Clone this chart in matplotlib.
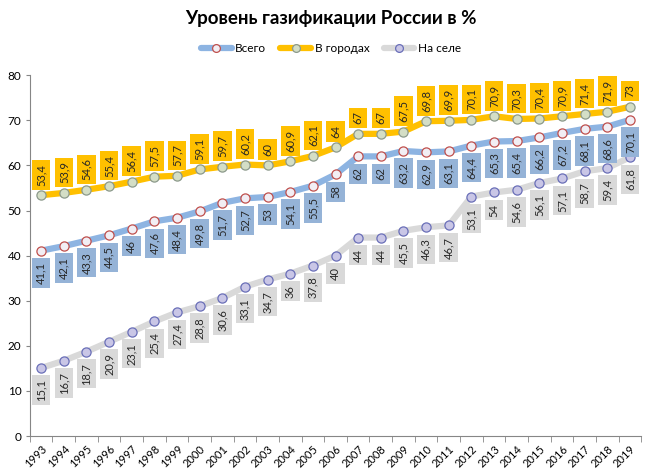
#!/usr/bin/env python3
"""
Gasification level of Russia, 1993-2019
"""
import matplotlib
matplotlib.use('Agg')
import matplotlib.pyplot as plt
from matplotlib.ticker import FixedLocator

years = list(range(1993, 2020))
total = [41.1, 42.1, 43.3, 44.5, 46, 47.6, 48.4, 49.8, 51.7, 52.7, 53, 54.1,
         55.5, 58, 62, 62, 63.2, 62.9, 63.1, 64.4, 65.3, 65.4, 66.2, 67.2,
         68.1, 68.6, 70.1]
urban = [53.4, 53.9, 54.6, 55.4, 56.4, 57.5, 57.7, 59.1, 59.7, 60.2, 60, 60.9,
         62.1, 64, 67, 67, 67.5, 69.8, 69.9, 70.1, 70.9, 70.3, 70.4, 70.9,
         71.4, 71.9, 73]
rural = [15.1, 16.7, 18.7, 20.9, 23.1, 25.4, 27.4, 28.8, 30.6, 33.1, 34.7, 36,
         37.8, 40, 44, 44, 45.5, 46.3, 46.7, 53.1, 54, 54.6, 56.1, 57.1,
         58.7, 59.4, 61.8]
names = ['Всего', 'В городах', 'На селе']


def fmt(v):
    s = ('%g' % v)
    return s.replace('.', ',')


def main():
    plt.rcParams['font.family'] = ['Lato', 'DejaVu Sans']
    fig = plt.figure(figsize=(6.49, 4.76), dpi=100)
    ax = fig.add_axes([0.046, 0.084, 0.942, 0.758])

    x = list(range(len(years)))
    series = [
        (total, '#8DB4E2', '#F2EEF4', '#C0504D', '#95B3D7', 'below'),
        (urban, '#FFC000', '#D4DEC6', '#8C9A8C', '#FFC000', 'above'),
        (rural, '#D9D9D9', '#C9C6E6', '#6A6FB8', '#D9D9D9', 'below'),
    ]
    handles = []
    for (vals, lc, mfc, mec, boxc, pos), name in zip(series, names):
        h, = ax.plot(x, vals, color=lc, lw=4.5, marker='o', ms=6.6,
                     mfc=mfc, mec=mec, mew=0.9, label=name, zorder=2,
                     solid_capstyle='round')
        handles.append(h)
        for xi, v in zip(x, vals):
            if pos == 'above':
                off, va = 6.8, 'bottom'
            else:
                off, va = -8.0, 'top'
            ax.annotate(fmt(v), (xi, v), xytext=(0, off),
                        textcoords='offset points', rotation=90,
                        ha='center', va=va, fontsize=8, color='#262626',
                        zorder=5,
                        bbox=dict(boxstyle='square,pad=0.34', fc=boxc,
                                  ec='none'))

    ax.set_xlim(-0.5, len(years) - 0.5)
    ax.set_ylim(0, 80)
    ax.set_yticks(range(0, 81, 10))
    ax.tick_params(axis='y', labelsize=8.5, length=3, color='#868686',
                   pad=3)
    ax.set_xticks(x)
    ax.set_xticklabels([str(y) for y in years], rotation=45, ha='right',
                       va='top', rotation_mode='anchor', fontsize=8)
    ax.tick_params(axis='x', which='major', length=0, pad=5)
    ax.xaxis.set_minor_locator(FixedLocator([i - 0.5 for i in
                                             range(len(years) + 1)]))
    ax.tick_params(axis='x', which='minor', length=4, color='#868686')
    for s in ['top', 'right']:
        ax.spines[s].set_visible(False)
    for s in ['left', 'bottom']:
        ax.spines[s].set_color('#868686')

    fig.text(0.51, 0.962, 'Уровень газификации России в %', ha='center',
             va='center', fontsize=13.5, fontweight='bold')
    fig.legend(handles=handles, loc='center', bbox_to_anchor=(0.51, 0.898),
               ncol=3, frameon=False, fontsize=8.5, handlelength=2.6,
               columnspacing=1.2, handletextpad=0.3, markerscale=0.85)

    fig.savefig('out.png', dpi=100)


if __name__ == "__main__":
    main()
